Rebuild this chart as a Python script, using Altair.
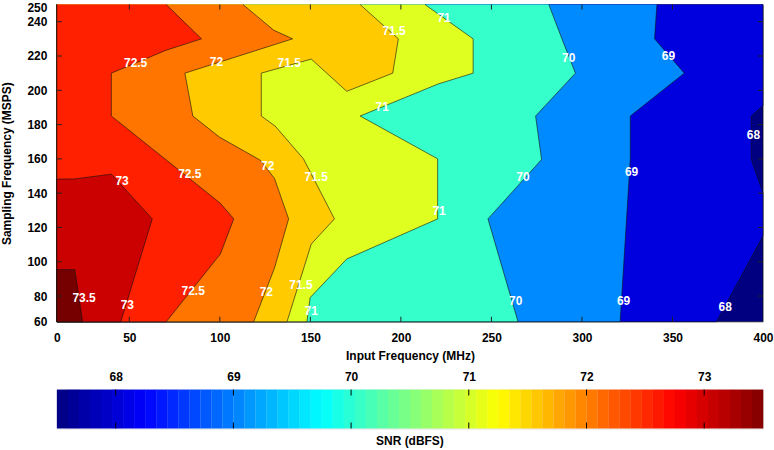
import altair as alt
import pandas as pd

FONT = "Liberation Sans"

# axis ticks (the first/last tick labels of the original are "0" at 10 MHz and "60" at 65 MSPS)
x_ticks = [10, 50, 100, 150, 200, 250, 300, 350, 400]
y_ticks = [65, 80, 100, 120, 140, 160, 180, 200, 220, 240, 250]
inner_x_ticks = [50, 100, 150, 200, 250, 300, 350]
inner_y_ticks = [80, 100, 120, 140, 160, 180, 200, 220, 240]
cb_ticks = [68, 69, 70, 71, 72, 73]

# contour boundaries of the regions SNR >= level (Input MHz, Sampling MSPS), listed top to bottom
c68_x = [400, 400, 393.5, 393.5, 400, 400, 374.3]
c68_y = [250, 191.1, 185, 159.6, 140, 115.1, 65]
c69_x = [341.4, 340.1, 356.5, 326.7, 326.7, 321.1]
c69_y = [250, 230, 210, 185, 160, 65]
c70_x = [281.7, 289.4, 296.4, 274.4, 277.7, 248.1, 264.7]
c70_y = [250, 228.8, 210, 185, 159.6, 125, 65]
c71_x = [213.3, 239.9, 239.9, 220.6, 177.5, 220.3, 220.3, 170.1, 149.9, 148.1]
c71_y = [250, 230, 210, 203.7, 185, 160, 125, 101.6, 79.1, 65]
c715_x = [177.5, 198.6, 195.5, 170.1, 150.5, 122.9, 122.9, 130.6, 146.2, 163.3, 150.5, 137.1]
c715_y = [250, 230, 210, 199.4, 218.2, 210, 185, 179.1, 160, 125, 110.3, 65]
c72_x = [112.8, 129.7, 140.2, 80.7, 85.1, 99.8, 122.4, 130.2, 138.0, 130.2, 118.7]
c72_y = [250, 235.1, 230, 210, 185, 172.7, 159.2, 148.6, 125, 96.3, 65]
c725_x = [70.4, 89.9, 70.4, 40.1, 40.1, 100.3, 107.7, 100.3, 70.4]
c725_y = [250, 230, 223.4, 210, 185, 134.1, 125, 104.5, 65]
c73_x = [10, 19.9, 40.1, 62.7, 45.3]
c73_y = [148.2, 148.3, 151.1, 125, 65]
c735_x = [10, 19.9, 24.2]
c735_y = [95.4, 95.4, 65]

levels = [68, 69, 70, 71, 71.5, 72, 72.5, 73, 73.5]
bounds_x = [c68_x, c69_x, c70_x, c71_x, c715_x, c72_x, c725_x, c73_x, c735_x]
bounds_y = [c68_y, c69_y, c70_y, c71_y, c715_y, c72_y, c725_y, c73_y, c735_y]

# contour labels
lab_x = [53.5, 98.1, 138.3, 196.2, 223.7, 189.7, 292.7, 347.8, 394.7, 46, 83.4, 25, 48.9,
         85.3, 126.4, 153.2, 221.1, 125.7, 144.8, 150.5, 267.4, 327.4, 263.4, 323, 379.1]
lab_y = [216.2, 216.7, 215.7, 234.6, 242.4, 190.5, 219.1, 220.1, 173.7, 147.2, 151.1, 78.9, 75,
         83.2, 155.7, 149.2, 129.8, 82.2, 86.2, 71.2, 149.2, 152.4, 77, 77, 73.5]
lab_t = ["72.5", "72", "71.5", "71.5", "71", "71", "70", "69", "68", "73", "72.5", "73.5", "73",
         "72.5", "72", "71.5", "71", "72", "71.5", "71", "70", "69", "70", "69", "68"]

# jet colour map anchors and colour bar range
jet_domain = [67.5, 68.25, 69.75, 71.25, 72.75, 73.5]
jet_colors = ["#000080", "#0000ff", "#00ffff", "#ffff00", "#ff0000", "#800000"]
cb_min, cb_max, cb_steps = 67.5, 73.5, 64
fill_shift = 0.06  # filled bands use the colour just above their lower level

W, H = 708, 318
CBH = 39

xs = alt.Scale(domain=[10, 400], nice=False, zero=False)
ys = alt.Scale(domain=[65, 250], nice=False, zero=False)
cscale = alt.Scale(domain=jet_domain, range=jet_colors, interpolate="rgb")

common = dict(tickSize=0, domain=False, grid=False, labelFlush=False, labelFont=FONT, titleFont=FONT,
              labelFontSize=12, titleFontSize=12, labelFontWeight="bold", titleFontWeight="bold",
              labelColor="black", titleColor="black")
x_axis = alt.Axis(values=x_ticks, labelExpr="datum.value == 10 ? '0' : datum.label",
                  labelPadding=11, titlePadding=7, **common)
y_axis = alt.Axis(values=y_ticks, labelExpr="datum.value == 65 ? '60' : datum.label",
                  labelOffset=alt.condition("datum.value == 250", alt.value(2.5), alt.value(0)),
                  labelPadding=10, titlePadding=13, **common)


def xenc():
    return alt.X("x:Q", scale=xs, axis=x_axis, title="Input Frequency (MHz)")


def yenc():
    return alt.Y("y:Q", scale=ys, axis=y_axis, title="Sampling Frequency (MSPS)")


polys = [(cb_min, [10, 400, 400, 10], [250, 250, 65, 65])]
for lv, bx, by in zip(levels, bounds_x, bounds_y):
    polys.append((lv + fill_shift, bx + [10, 10], by + [65, by[0]]))

layers = []
for lv, px, py in polys:
    df = pd.DataFrame({"x": px, "y": py, "i": list(range(len(px))), "level": [lv] * len(px)})
    layers.append(
        alt.Chart(df).mark_line(filled=True, stroke="#111111", strokeWidth=0.6).encode(
            x=xenc(), y=yenc(), order=alt.Order("i:Q"),
            color=alt.Color("level:Q", scale=cscale, legend=None)))

tx = pd.DataFrame({"x": inner_x_ticks})
ty = pd.DataFrame({"y": inner_y_ticks})
tick_top = alt.Chart(tx).mark_rule(color="#222222", strokeWidth=1).encode(x=xenc(), y=alt.value(0), y2=alt.value(5))
tick_bot = alt.Chart(tx).mark_rule(color="#222222", strokeWidth=1).encode(x=xenc(), y=alt.value(H), y2=alt.value(H - 5))
tick_left = alt.Chart(ty).mark_rule(color="#222222", strokeWidth=1).encode(y=yenc(), x=alt.value(0), x2=alt.value(5))
tick_right = alt.Chart(ty).mark_rule(color="#222222", strokeWidth=1).encode(y=yenc(), x=alt.value(W), x2=alt.value(W - 5))

labels = alt.Chart(pd.DataFrame({"x": lab_x, "y": lab_y, "t": lab_t})).mark_text(
    color="white", font=FONT, fontSize=12, fontWeight="bold").encode(x=xenc(), y=yenc(), text="t:N")

main = alt.layer(*layers, tick_top, tick_bot, tick_left, tick_right, labels).properties(width=W, height=H)

# colour bar
step = (cb_max - cb_min) / cb_steps
cb_lo = [cb_min + k * step for k in range(cb_steps)]
cb_df = pd.DataFrame({"x": cb_lo, "x2": [v + step * 1.02 for v in cb_lo], "level": [v + step / 2 for v in cb_lo]})
cbx = alt.Scale(domain=[cb_min, cb_max], nice=False, zero=False)
cb_axis = alt.Axis(orient="top", values=cb_ticks, labelPadding=6, **common)


def cbenc():
    return alt.X("x:Q", scale=cbx, axis=cb_axis, title=None)


bar = alt.Chart(cb_df).mark_rect().encode(x=cbenc(), x2="x2:Q",
                                          color=alt.Color("level:Q", scale=cscale, legend=None))
ct = pd.DataFrame({"x": cb_ticks})
cb_top = alt.Chart(ct).mark_rule(color="black", strokeWidth=1).encode(x=cbenc(), y=alt.value(0), y2=alt.value(6))
cb_bot = alt.Chart(ct).mark_rule(color="black", strokeWidth=1).encode(x=cbenc(), y=alt.value(CBH), y2=alt.value(CBH - 6))

cbar = alt.layer(bar, cb_top, cb_bot).properties(
    width=W, height=CBH,
    title=alt.TitleParams("SNR (dBFS)", orient="bottom", font=FONT, fontSize=12, fontWeight="bold",
                          color="black", offset=7, anchor="middle"))

chart = alt.vconcat(main, cbar, spacing=7).resolve_scale(x="independent", y="independent").properties(
    padding={"left": 0, "top": 0, "right": 0, "bottom": 0}
).configure_view(stroke="#222222", strokeWidth=1).configure(font=FONT)

chart.save("out.html", embed_options={"renderer": "svg", "actions": False})
